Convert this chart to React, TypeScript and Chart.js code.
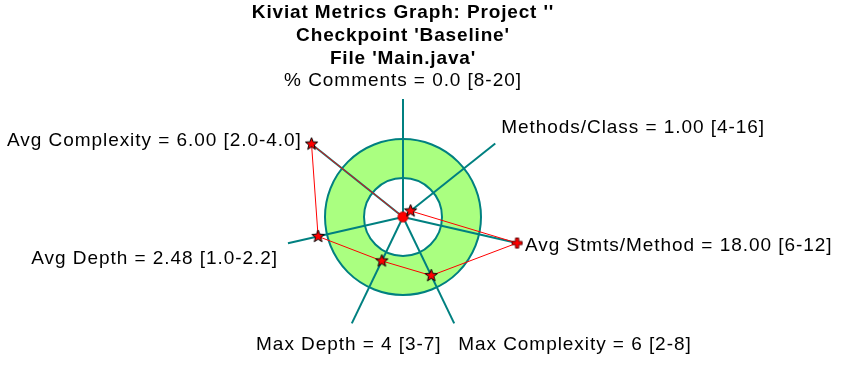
import React, { useEffect, useRef } from 'react';
import { Chart, registerables } from 'chart.js';

Chart.register(...registerables);

// ---- data ----
const titleLines = ["Kiviat Metrics Graph: Project ''", "Checkpoint 'Baseline'", "File 'Main.java'"];
const metricNames = ['% Comments', 'Methods/Class', 'Avg Stmts/Method', 'Max Complexity', 'Max Depth', 'Avg Depth', 'Avg Complexity'];
const metricValues = [0.0, 1.0, 18.0, 6, 4, 2.48, 6.0];
const valueDecimals = [1, 2, 2, 0, 0, 2, 2];
const rangeLow = ['8', '4', '6', '2', '3', '1.0', '2.0'];
const rangeHigh = ['20', '16', '12', '8', '7', '2.2', '4.0'];
const markerKinds = ['circle', 'star', 'plus', 'star', 'star', 'star', 'star'];
const scaleMax = 3; // 0..1 below range, 1..2 inside range, 2..3 above range

const TEAL = '#008080';
const GREEN = '#aaff80';
const RED = '#ff0000';

function normalize(v: number, lo: number, hi: number): number {
  let r: number;
  if (v <= lo) r = lo === 0 ? 0 : v / lo;
  else if (v <= hi) r = 1 + (v - lo) / (hi - lo);
  else r = 2 + (v - hi) / (hi - lo);
  return Math.min(scaleMax, Math.max(0, r));
}

const axisLabels = metricNames.map(
  (n, i) => `${n} = ${metricValues[i].toFixed(valueDecimals[i])} [${rangeLow[i]}-${rangeHigh[i]}]`
);
const normValues = metricValues.map((v, i) => normalize(v, parseFloat(rangeLow[i]), parseFloat(rangeHigh[i])));

function makeMarker(kind: string): HTMLCanvasElement {
  const c = document.createElement('canvas');
  const s = kind === 'star' ? 15 : 13;
  c.width = s;
  c.height = s;
  const ctx = c.getContext('2d')!;
  const m = s / 2;
  ctx.fillStyle = RED;
  ctx.strokeStyle = '#000000';
  ctx.lineWidth = 1;
  ctx.beginPath();
  if (kind === 'star') {
    const R = 6.5, r = 2.8;
    for (let k = 0; k < 10; k++) {
      const a = -Math.PI / 2 + (k * Math.PI) / 5;
      const rr = k % 2 === 0 ? R : r;
      const x = m + rr * Math.cos(a), y = m + rr * Math.sin(a);
      if (k === 0) ctx.moveTo(x, y); else ctx.lineTo(x, y);
    }
    ctx.closePath();
    ctx.fill();
    ctx.stroke();
  } else if (kind === 'plus') {
    const a = 5, w = 1.6;
    ctx.moveTo(m - w, m - a); ctx.lineTo(m + w, m - a); ctx.lineTo(m + w, m - w);
    ctx.lineTo(m + a, m - w); ctx.lineTo(m + a, m + w); ctx.lineTo(m + w, m + w);
    ctx.lineTo(m + w, m + a); ctx.lineTo(m - w, m + a); ctx.lineTo(m - w, m + w);
    ctx.lineTo(m - a, m + w); ctx.lineTo(m - a, m - w); ctx.lineTo(m - w, m - w);
    ctx.closePath();
    ctx.strokeStyle = '#600000';
    ctx.fill();
    ctx.stroke();
  } else {
    ctx.arc(m, m, 5, 0, Math.PI * 2);
    ctx.fill();
    ctx.strokeStyle = '#c00000';
    ctx.stroke();
  }
  return c;
}

// label placement relative to the spoke ends
const labelPlacement = [
  { align: 'center', dx: 0, dy: -13 },
  { align: 'left', dx: 6, dy: -10 },
  { align: 'left', dx: 7, dy: 8 },
  { align: 'left', dx: 4, dy: 27 },
  { align: 'center', dx: -3, dy: 27 },
  { align: 'right', dx: -10, dy: 21 },
  { align: 'right', dx: -9, dy: 3 },
];

const kiviatPlugin = {
  id: 'kiviat',
  beforeDatasetsDraw(chart: any) {
    const scale = chart.scales.r;
    const ctx: CanvasRenderingContext2D = chart.ctx;
    const cx = scale.xCenter, cy = scale.yCenter;
    const r1 = scale.getDistanceFromCenterForValue(1);
    const r2 = scale.getDistanceFromCenterForValue(2);
    ctx.save();
    ctx.beginPath();
    ctx.arc(cx, cy, r2, 0, Math.PI * 2);
    ctx.arc(cx, cy, r1, 0, Math.PI * 2, true);
    ctx.fillStyle = GREEN;
    ctx.fill();
    ctx.strokeStyle = TEAL;
    ctx.lineWidth = 2;
    ctx.beginPath();
    ctx.arc(cx, cy, r2, 0, Math.PI * 2);
    ctx.stroke();
    ctx.beginPath();
    ctx.arc(cx, cy, r1, 0, Math.PI * 2);
    ctx.stroke();
    for (let i = 0; i < metricNames.length; i++) {
      const p = scale.getPointPosition(i, scale.drawingArea + 1);
      ctx.beginPath();
      ctx.moveTo(cx, cy);
      ctx.lineTo(p.x, p.y);
      ctx.stroke();
    }
    ctx.restore();
  },
  afterDraw(chart: any) {
    const scale = chart.scales.r;
    const ctx: any = chart.ctx;
    ctx.save();
    ctx.fillStyle = '#000000';
    ctx.textBaseline = 'alphabetic';
    ctx.font = 'bold 19px "Liberation Sans", Arial, sans-serif';
    ctx.letterSpacing = '0.85px';
    ctx.textAlign = 'center';
    const titleBase = [18, 41, 64];
    titleLines.forEach((t, i) => ctx.fillText(t, 403, titleBase[i]));
    ctx.font = '19px "Liberation Sans", Arial, sans-serif';
    ctx.letterSpacing = '0.95px';
    for (let i = 0; i < axisLabels.length; i++) {
      const p = scale.getPointPosition(i, scale.drawingArea + 1);
      const pl = labelPlacement[i];
      ctx.textAlign = pl.align;
      ctx.fillText(axisLabels[i], p.x + pl.dx, p.y + pl.dy);
    }
    ctx.restore();
  },
};

export default function App() {
  const ref = useRef<HTMLCanvasElement | null>(null);
  useEffect(() => {
    if (!ref.current) return;
    const markers = markerKinds.map(makeMarker);
    const chart = new Chart(ref.current, {
      type: 'radar',
      data: {
        labels: axisLabels,
        datasets: [
          {
            data: normValues,
            borderColor: RED,
            borderWidth: 1,
            backgroundColor: 'rgba(0,0,0,0)',
            fill: false,
            tension: 0,
            pointStyle: markers as any,
            pointRadius: 6,
          },
        ],
      },
      options: {
        responsive: false,
        animation: false,
        devicePixelRatio: 1,
        layout: { padding: { left: 286, top: 100, right: 327, bottom: 43 } },
        plugins: { legend: { display: false }, tooltip: { enabled: false }, title: { display: false } },
        scales: {
          r: {
            min: 0,
            max: scaleMax,
            ticks: { display: false },
            grid: { display: false },
            angleLines: { display: false },
            pointLabels: { display: false },
          },
        },
      },
      plugins: [kiviatPlugin],
    });
    return () => chart.destroy();
  }, []);
  return (
    <div style={{ position: 'absolute', left: 0, top: 0, width: 847, height: 377, background: '#ffffff' }}>
      <canvas ref={ref} width={847} height={377} style={{ display: 'block' }} />
    </div>
  );
}
